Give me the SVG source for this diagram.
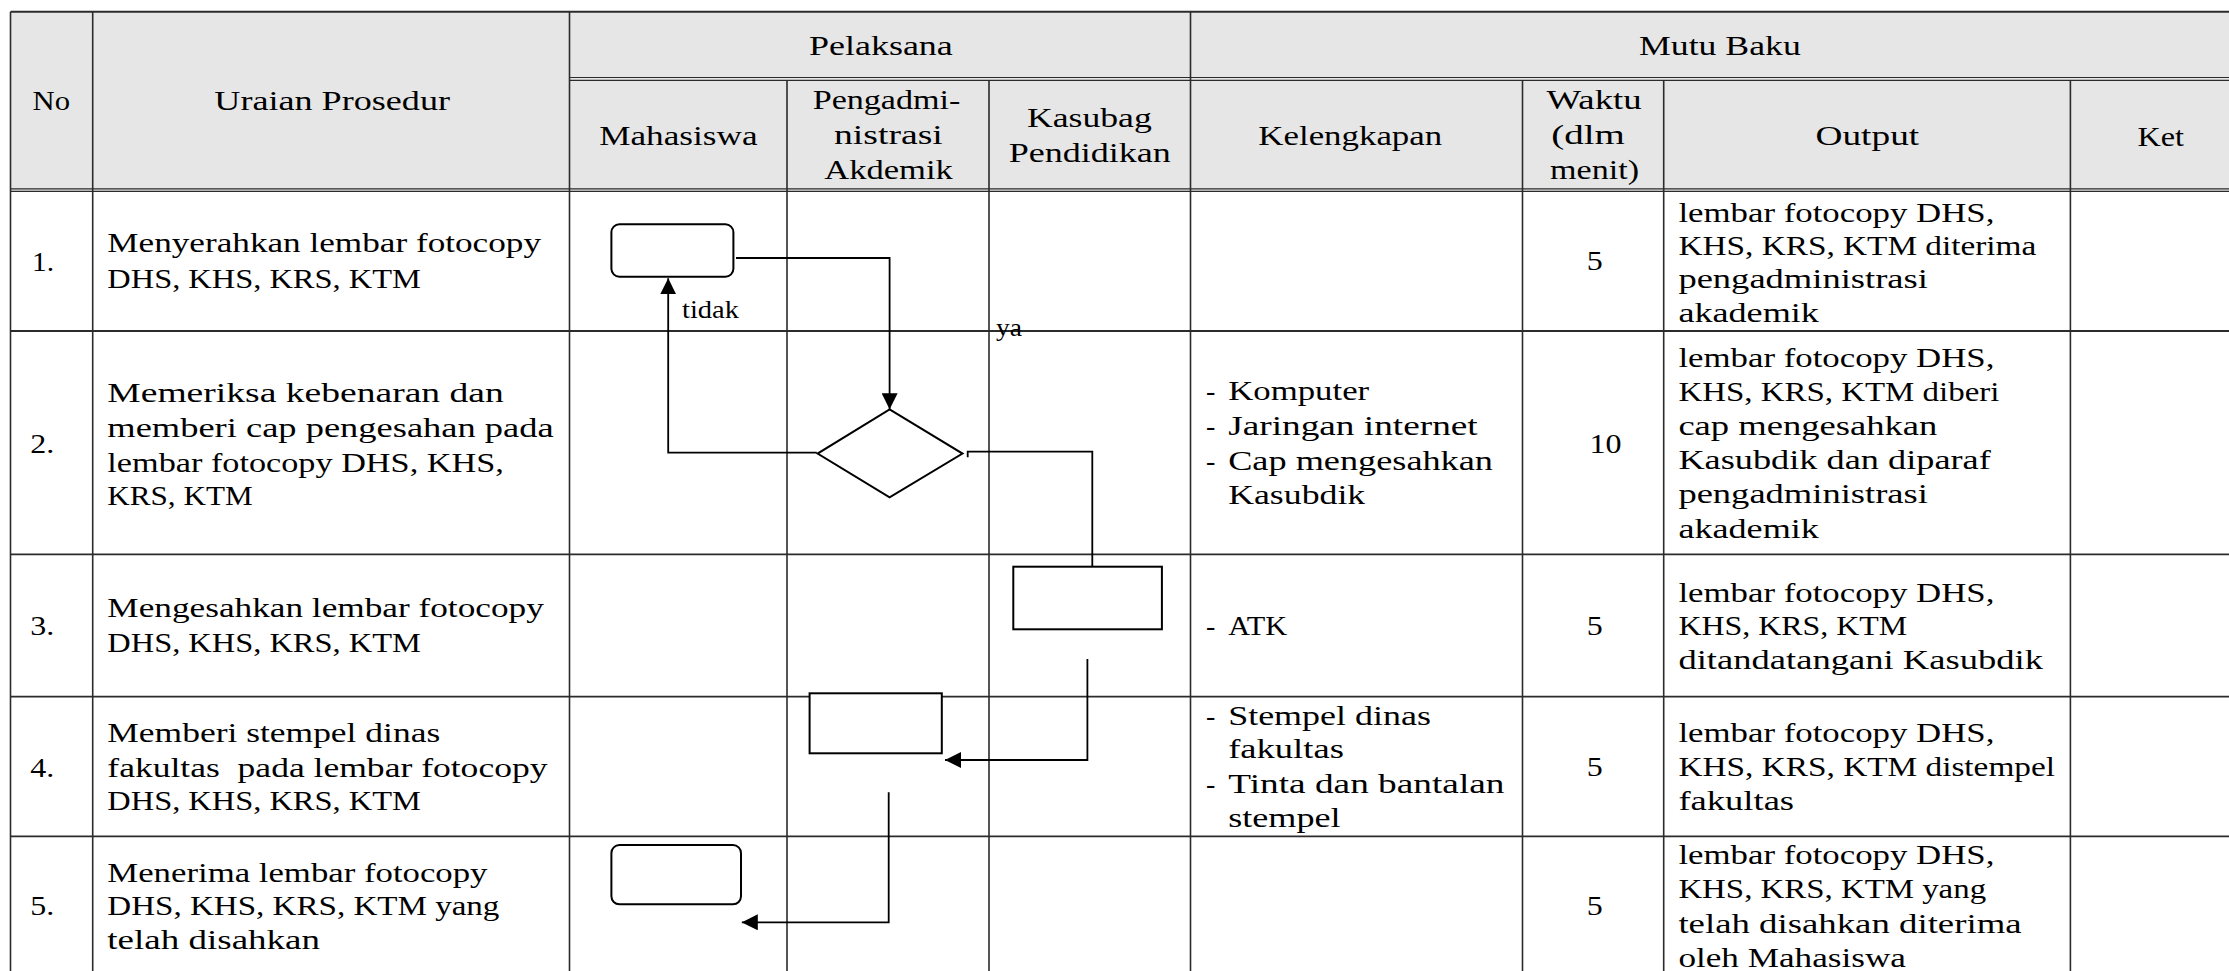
<svg xmlns="http://www.w3.org/2000/svg" width="2229" height="971" viewBox="0 0 2229 971">
<style>
.t{font-family:"Liberation Serif","Times New Roman",serif;font-size:28px;fill:#000;white-space:pre}
.lbl{font-family:"Liberation Serif","Times New Roman",serif;font-size:26px;fill:#000}
.g{stroke:#2b2b2b;stroke-width:1.6;fill:none}
.gt{stroke:#2b2b2b;stroke-width:1.2;fill:none}
.nd{fill:#fff;stroke:#000;stroke-width:2}
.cn{fill:none;stroke:#000;stroke-width:1.8}
</style>
<defs>
<marker id="arr" markerUnits="userSpaceOnUse" markerWidth="16" markerHeight="16" viewBox="0 0 15 15" refX="15" refY="7.5" orient="auto">
<path d="M0,0 L15,7.5 L0,15 z" fill="#000"/>
</marker>
</defs>
<rect width="2229" height="971" fill="#fff"/>
<g id="table">
<rect x="10.5" y="11.7" width="2218.5" height="179.5" fill="#e6e6e6"/>
<path class="g" style="stroke-width:2" d="M10.5 11.7H2229"/>
<path class="gt" d="M569.5 77.5H2229M569.5 80.3H2229M10.5 188.8H2229M10.5 191.4H2229"/>
<path class="g" style="stroke-width:1.8" d="M10.5 331H2229M10.5 554.3H2229M10.5 696.7H2229M10.5 836.3H2229"/>
<path class="g" d="M10.5 11.7V971M92.7 11.7V971M569.5 11.7V971M1190.5 11.7V971M787 80.3V971M989 80.3V971M1522.5 80.3V971M1663.7 80.3V971M2070.4 80.3V971"/>
</g>
<g id="header-text">
<text class="t" x="32.5" y="110" textLength="37.5" lengthAdjust="spacingAndGlyphs">No</text>
<text class="t" x="214.3" y="110" textLength="235.7" lengthAdjust="spacingAndGlyphs">Uraian Prosedur</text>
<text class="t" x="809" y="55" textLength="143.8" lengthAdjust="spacingAndGlyphs">Pelaksana</text>
<text class="t" x="1639" y="55" textLength="161.8" lengthAdjust="spacingAndGlyphs">Mutu Baku</text>
<text class="t" x="599.2" y="145" textLength="158.4" lengthAdjust="spacingAndGlyphs">Mahasiswa</text>
<text class="t" x="812.7" y="109" textLength="147.7" lengthAdjust="spacingAndGlyphs">Pengadmi-</text>
<text class="t" x="834" y="144" textLength="108.8" lengthAdjust="spacingAndGlyphs">nistrasi</text>
<text class="t" x="824.2" y="179" textLength="128.6" lengthAdjust="spacingAndGlyphs">Akdemik</text>
<text class="t" x="1027" y="127.3" textLength="124.8" lengthAdjust="spacingAndGlyphs">Kasubag</text>
<text class="t" x="1008.7" y="162.3" textLength="162.2" lengthAdjust="spacingAndGlyphs">Pendidikan</text>
<text class="t" x="1258.3" y="145" textLength="183.9" lengthAdjust="spacingAndGlyphs">Kelengkapan</text>
<text class="t" x="1546.6" y="109" textLength="95" lengthAdjust="spacingAndGlyphs">Waktu</text>
<text class="t" x="1551.3" y="144" textLength="73.6" lengthAdjust="spacingAndGlyphs">(dlm</text>
<text class="t" x="1550" y="179" textLength="89" lengthAdjust="spacingAndGlyphs">menit)</text>
<text class="t" x="1815.5" y="145" textLength="103.7" lengthAdjust="spacingAndGlyphs">Output</text>
<text class="t" x="2137.5" y="145.5" textLength="46.5" lengthAdjust="spacingAndGlyphs">Ket</text>
</g>
<g id="row1-text">
<text class="t" x="32" y="270.7" textLength="22" lengthAdjust="spacingAndGlyphs">1.</text>
<text class="t" x="107.3" y="252.3" textLength="433.7" lengthAdjust="spacingAndGlyphs">Menyerahkan lembar fotocopy</text>
<text class="t" x="107.3" y="288" textLength="313.5" lengthAdjust="spacingAndGlyphs">DHS, KHS, KRS, KTM</text>
<text class="t" x="1586.7" y="270" textLength="16" lengthAdjust="spacingAndGlyphs">5</text>
<text class="t" x="1678.4" y="221.7" textLength="316" lengthAdjust="spacingAndGlyphs">lembar fotocopy DHS,</text>
<text class="t" x="1678.4" y="255" textLength="357.9" lengthAdjust="spacingAndGlyphs">KHS, KRS, KTM diterima</text>
<text class="t" x="1678.4" y="288.3" textLength="249.5" lengthAdjust="spacingAndGlyphs">pengadministrasi</text>
<text class="t" x="1678.4" y="322.3" textLength="140.5" lengthAdjust="spacingAndGlyphs">akademik</text>
</g>
<g id="row2-text">
<text class="t" x="30.3" y="453.3" textLength="24" lengthAdjust="spacingAndGlyphs">2.</text>
<text class="t" x="107.3" y="401.7" textLength="396.5" lengthAdjust="spacingAndGlyphs">Memeriksa kebenaran dan</text>
<text class="t" x="107.3" y="437" textLength="446.4" lengthAdjust="spacingAndGlyphs">memberi cap pengesahan pada</text>
<text class="t" x="107.3" y="471.7" textLength="396.5" lengthAdjust="spacingAndGlyphs">lembar fotocopy DHS, KHS,</text>
<text class="t" x="107.3" y="505" textLength="145.3" lengthAdjust="spacingAndGlyphs">KRS, KTM</text>
<text class="t" x="1206" y="400">-</text>
<text class="t" x="1206" y="435">-</text>
<text class="t" x="1206" y="470">-</text>
<text class="t" x="1228.2" y="400" textLength="141" lengthAdjust="spacingAndGlyphs">Komputer</text>
<text class="t" x="1228.2" y="435" textLength="249.5" lengthAdjust="spacingAndGlyphs">Jaringan internet</text>
<text class="t" x="1228.2" y="470" textLength="264.8" lengthAdjust="spacingAndGlyphs">Cap mengesahkan</text>
<text class="t" x="1228.2" y="504.3" textLength="137" lengthAdjust="spacingAndGlyphs">Kasubdik</text>
<text class="t" x="1589.4" y="452.7" textLength="32" lengthAdjust="spacingAndGlyphs">10</text>
<text class="t" x="1678.4" y="366.7" textLength="316" lengthAdjust="spacingAndGlyphs">lembar fotocopy DHS,</text>
<text class="t" x="1678.4" y="401" textLength="321" lengthAdjust="spacingAndGlyphs">KHS, KRS, KTM diberi</text>
<text class="t" x="1678.4" y="435" textLength="259" lengthAdjust="spacingAndGlyphs">cap mengesahkan</text>
<text class="t" x="1678.4" y="469" textLength="312.4" lengthAdjust="spacingAndGlyphs">Kasubdik dan diparaf</text>
<text class="t" x="1678.4" y="503.3" textLength="249.5" lengthAdjust="spacingAndGlyphs">pengadministrasi</text>
<text class="t" x="1678.4" y="538.3" textLength="140.5" lengthAdjust="spacingAndGlyphs">akademik</text>
</g>
<g id="row3-text">
<text class="t" x="30.3" y="635" textLength="24" lengthAdjust="spacingAndGlyphs">3.</text>
<text class="t" x="107.3" y="616.7" textLength="436.5" lengthAdjust="spacingAndGlyphs">Mengesahkan lembar fotocopy</text>
<text class="t" x="107.3" y="652.3" textLength="313.5" lengthAdjust="spacingAndGlyphs">DHS, KHS, KRS, KTM</text>
<text class="t" x="1206" y="635">-</text>
<text class="t" x="1228.2" y="635" textLength="58.8" lengthAdjust="spacingAndGlyphs">ATK</text>
<text class="t" x="1586.7" y="635" textLength="16" lengthAdjust="spacingAndGlyphs">5</text>
<text class="t" x="1678.4" y="601.7" textLength="316" lengthAdjust="spacingAndGlyphs">lembar fotocopy DHS,</text>
<text class="t" x="1678.4" y="635" textLength="228.8" lengthAdjust="spacingAndGlyphs">KHS, KRS, KTM</text>
<text class="t" x="1678.4" y="669.3" textLength="364.6" lengthAdjust="spacingAndGlyphs">ditandatangani Kasubdik</text>
</g>
<g id="row4-text">
<text class="t" x="30.3" y="777.3" textLength="24" lengthAdjust="spacingAndGlyphs">4.</text>
<text class="t" x="107.3" y="741.7" textLength="332.9" lengthAdjust="spacingAndGlyphs">Memberi stempel dinas</text>
<text class="t" x="107.3" y="776.7" textLength="440.2" lengthAdjust="spacingAndGlyphs">fakultas  pada lembar fotocopy</text>
<text class="t" x="107.3" y="810" textLength="313.5" lengthAdjust="spacingAndGlyphs">DHS, KHS, KRS, KTM</text>
<text class="t" x="1206" y="725">-</text>
<text class="t" x="1206" y="792.7">-</text>
<text class="t" x="1228.2" y="725" textLength="202.7" lengthAdjust="spacingAndGlyphs">Stempel dinas</text>
<text class="t" x="1228.2" y="758.3" textLength="115.7" lengthAdjust="spacingAndGlyphs">fakultas</text>
<text class="t" x="1228.2" y="792.7" textLength="276.3" lengthAdjust="spacingAndGlyphs">Tinta dan bantalan</text>
<text class="t" x="1228.2" y="826.7" textLength="112.4" lengthAdjust="spacingAndGlyphs">stempel</text>
<text class="t" x="1586.7" y="776" textLength="16" lengthAdjust="spacingAndGlyphs">5</text>
<text class="t" x="1678.4" y="742.3" textLength="316" lengthAdjust="spacingAndGlyphs">lembar fotocopy DHS,</text>
<text class="t" x="1678.4" y="776" textLength="376.6" lengthAdjust="spacingAndGlyphs">KHS, KRS, KTM distempel</text>
<text class="t" x="1678.4" y="810" textLength="115.7" lengthAdjust="spacingAndGlyphs">fakultas</text>
</g>
<g id="row5-text">
<text class="t" x="30.3" y="915" textLength="24" lengthAdjust="spacingAndGlyphs">5.</text>
<text class="t" x="107.3" y="881.7" textLength="380.2" lengthAdjust="spacingAndGlyphs">Menerima lembar fotocopy</text>
<text class="t" x="107.3" y="915" textLength="392.1" lengthAdjust="spacingAndGlyphs">DHS, KHS, KRS, KTM yang</text>
<text class="t" x="107.3" y="949.3" textLength="212.7" lengthAdjust="spacingAndGlyphs">telah disahkan</text>
<text class="t" x="1586.7" y="915" textLength="16" lengthAdjust="spacingAndGlyphs">5</text>
<text class="t" x="1678.4" y="864" textLength="316" lengthAdjust="spacingAndGlyphs">lembar fotocopy DHS,</text>
<text class="t" x="1678.4" y="898.3" textLength="307.7" lengthAdjust="spacingAndGlyphs">KHS, KRS, KTM yang</text>
<text class="t" x="1678.4" y="932.7" textLength="343.2" lengthAdjust="spacingAndGlyphs">telah disahkan diterima</text>
<text class="t" x="1678.4" y="966.7" textLength="227.5" lengthAdjust="spacingAndGlyphs">oleh Mahasiswa</text>
</g>
<g id="connectors">
<path class="cn" d="M736 258H889.6V409.3" marker-end="url(#arr)"/>
<path class="cn" d="M816.8 452.7H668.2V278.3" marker-end="url(#arr)"/>
<path class="cn" d="M967.7 457.3V451.7H1092.3V566.7"/>
<path class="cn" d="M1087.4 659V760H945" marker-end="url(#arr)"/>
<path class="cn" d="M888.7 792.3V922.3H741.8" marker-end="url(#arr)"/>
<text class="lbl" x="682" y="318" textLength="57" lengthAdjust="spacingAndGlyphs">tidak</text>
<text class="lbl" x="996" y="335.5" textLength="26" lengthAdjust="spacingAndGlyphs">ya</text>
</g>
<g id="node1"><rect class="nd" x="611.4" y="224.3" width="122" height="52.4" rx="8"/></g>
<g id="node2"><path class="nd" d="M889.6 409.3L962.5 453.6L889.6 497.3L817.6 453.6Z"/></g>
<g id="node3"><rect class="nd" x="1013.3" y="566.7" width="148.6" height="62.6"/></g>
<g id="node4"><rect class="nd" x="809.6" y="693.3" width="132.2" height="60"/></g>
<g id="node5"><rect class="nd" x="611.4" y="845" width="129.6" height="59.3" rx="8"/></g>
</svg>
